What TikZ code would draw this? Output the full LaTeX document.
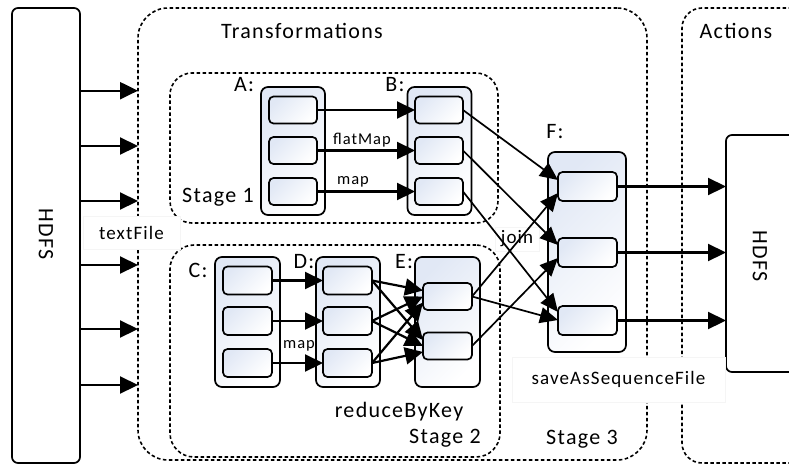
\documentclass[tikz,border=0pt]{standalone}
\usepackage{fontspec}
\setmainfont{Carlito}[LetterSpace=6]
\usetikzlibrary{arrows.meta,calc}
\definecolor{cellblue}{HTML}{E1E8F5}

\begin{document}
\begin{tikzpicture}[x=1pt,y=-1pt,
  every node/.style={inner sep=0pt, outer sep=0pt},
  dashbox/.style={draw, line width=1.6pt, dash pattern=on 3.5pt off 2.5pt},
  store/.style={draw, line width=1.7pt, rounded corners=6pt, fill=white},
  holder/.style={draw, line width=1.7pt, rounded corners=7pt, top color=cellblue, bottom color=white, shading angle=45, minimum width=64pt, minimum height=128pt},
  cell/.style={draw, line width=1.7pt, rounded corners=4.5pt, top color=cellblue, bottom color=white, shading angle=45, minimum width=48pt, minimum height=27pt},
  arr/.style={line width=2.2pt, -{Triangle[length=18pt,width=17pt]}},
  thinarr/.style={line width=1.7pt, -{Triangle[length=18pt,width=16pt]}},
  big/.style={font=\fontsize{22}{24}\selectfont},
  mid/.style={font=\fontsize{19}{21}\selectfont},
  sml/.style={font=\fontsize{16.5}{18}\selectfont},
  tag/.style={fill=white, draw=black!4, line width=0.6pt},
]
\clip (0,0) rectangle (789,466);
\fill[white] (0,0) rectangle (789,466);

% dashed regions
\node[dashbox, rounded corners=30pt, minimum width=509pt, minimum height=452pt] (trans) at (392.5,234) {};
\node[dashbox, rounded corners=20pt, minimum width=160pt, minimum height=455pt] (act) at (762,235.5) {};
\node[dashbox, rounded corners=22pt, minimum width=328pt, minimum height=150pt] (stage1) at (334,148) {};
\node[dashbox, rounded corners=24pt, minimum width=330pt, minimum height=212pt] (stage2) at (335,351) {};

% storage blocks
\node[store, minimum width=68pt, minimum height=455pt] (hdfsL) at (46,235.5) {};
\node[store, minimum width=114pt, minimum height=237pt] (hdfsR) at (783,253.5) {};
\node[big, rotate=-90] (hdfsLtxt) at (46,234) {HDFS};
\node[big, rotate=-90] (hdfsRtxt) at (760,256) {HDFS};

% label backgrounds
\node[tag, mid, minimum width=97pt, minimum height=33pt] (tf) at (131.5,233) {textFile};
\node[tag, mid, minimum width=213pt, minimum height=45pt] (save) at (618.5,379.5) {saveAsSequenceFile};
\node[tag, mid, minimum width=44pt, minimum height=24pt] (join) at (517,239) {join};

% RDD containers
\node[holder] (A) at (293,151) {};
\node[holder] (B) at (439.5,151) {};
\node[holder, minimum width=65pt, minimum height=130pt] (C) at (247.5,322) {};
\node[holder, minimum width=64pt, minimum height=130pt] (D) at (348,322) {};
\node[holder, minimum width=65pt, minimum height=130pt] (E) at (447.5,322) {};
\node[holder, minimum width=78pt, minimum height=200pt] (F) at (587,252) {};

% partitions
\node[cell] (a1) at (293,110) {};
\node[cell] (a2) at (293,150.5) {};
\node[cell] (a3) at (293,191.5) {};
\node[cell] (b1) at (439,110) {};
\node[cell] (b2) at (439,150.5) {};
\node[cell] (b3) at (439,191.5) {};
\node[cell, minimum width=49pt, minimum height=28pt] (c1) at (247.5,280.5) {};
\node[cell, minimum width=49pt, minimum height=28pt] (c2) at (247.5,321) {};
\node[cell, minimum width=49pt, minimum height=28pt] (c3) at (247.5,363) {};
\node[cell, minimum width=49pt, minimum height=28pt] (d1) at (347.5,280.5) {};
\node[cell, minimum width=49pt, minimum height=28pt] (d2) at (347.5,321) {};
\node[cell, minimum width=49pt, minimum height=28pt] (d3) at (347.5,363) {};
\node[cell, minimum width=49pt, minimum height=27pt] (e1) at (447.5,296.5) {};
\node[cell, minimum width=49pt, minimum height=27pt] (e2) at (447.5,346) {};
\node[cell, minimum width=59pt, minimum height=29pt] (f1) at (587.5,186.5) {};
\node[cell, minimum width=59pt, minimum height=29pt] (f2) at (587.5,252.5) {};
\node[cell, minimum width=59pt, minimum height=29pt] (f3) at (587.5,320.5) {};

% textFile inputs
\foreach \yy in {90.7,146,201,265,329,385}
  \draw[arr] (hdfsL.east |- 0,\yy) -- (trans.west |- 0,\yy);

% stage 1
\draw[arr] (a1.east) -- (b1.west);
\draw[arr] (a2.east) -- (b2.west);
\draw[arr] (a3.east) -- (b3.west);

% stage 2
\draw[arr] (c1.east) -- (d1.west);
\draw[arr] (c2.east) -- (d2.west);
\draw[arr] (c3.east) -- (d3.west);
\foreach \i/\s in {1/6,2/0,3/-6}{
  \draw[arr] (d\i.east) -- ([yshift=\s pt]e1.west);
  \draw[arr] (d\i.east) -- ([yshift=\s pt]e2.west);
}

% join
\draw[thinarr] (b1.east) -- ([yshift=6.5pt]f1.west);
\draw[thinarr] (e1.east) -- ([yshift=-6.5pt]f1.west);
\draw[thinarr] (b2.east) -- ([yshift=7.5pt]f2.west);
\draw[thinarr] (e2.east) -- ([yshift=-5.5pt]f2.west);
\draw[thinarr] (b3.east) -- ([yshift=8.5pt]f3.west);
\draw[thinarr] (e1.east) -- ([yshift=0.5pt]f3.west);

% outputs
\draw[arr] (f1.east) -- (f1.east -| hdfsR.west);
\draw[arr] (f2.east) -- (f2.east -| hdfsR.west);
\draw[arr] (f3.east) -- (f3.east -| hdfsR.west);

% texts
\node[big] (tTrans) at (302,31) {Transformations};
\node[big] (tAct) at (736,31) {Actions};
\node[big] (lA) at (244,85) {A:};
\node[big] (lB) at (395,85) {B:};
\node[big] (lC) at (198,270) {C:};
\node[big] (lD) at (304,262) {D:};
\node[big] (lE) at (404,262) {E:};
\node[big] (lF) at (555,132) {F:};
\node[big] (st1) at (218,197) {Stage 1};
\node[big] (st2) at (445,438) {Stage 2};
\node[big] (st3) at (582,439) {Stage 3};
\node[big] (rbk) at (399,412) {reduceByKey};
\node[sml] (fm) at (362,140) {flatMap};
\node[sml] (m1) at (353,182) {map};
\node[sml] (m2) at (299,346) {map};
\end{tikzpicture}
\end{document}
